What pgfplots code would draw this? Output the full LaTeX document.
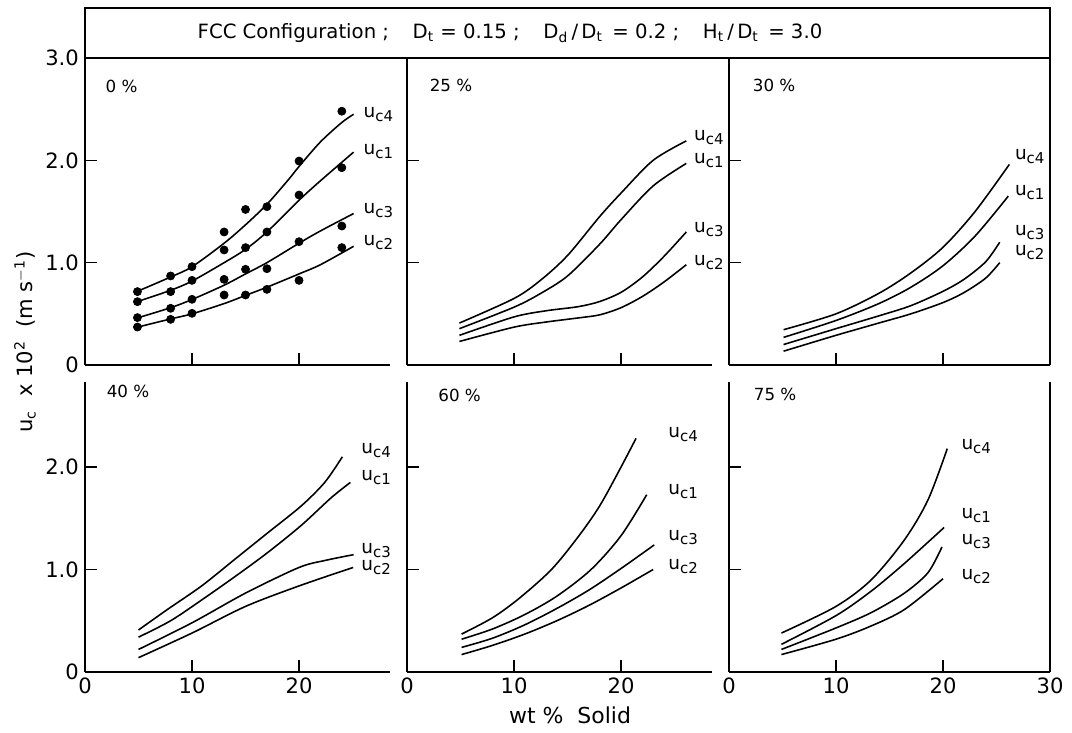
\documentclass[border=0pt]{standalone}
\usepackage{fontspec}
\setmainfont{DejaVu Sans}
\usepackage{pgfplots}
\pgfplotsset{compat=1.18}
\newcommand{\uc}[1]{u\raisebox{-0.4ex}{\fontsize{8.5}{9}\selectfont c#1}}
\tikzset{
  lab/.style={anchor=west, font=\fontsize{10.5}{12}\selectfont, inner sep=0pt},
  pct/.style={anchor=west, font=\fontsize{9.5}{11}\selectfont, inner sep=0pt},
}
\pgfplotsset{
  panel/.style={
    scale only axis, anchor=south west,
    xmin=0, ymin=0,
    axis x line*=bottom, axis y line*=left,
    axis line style={line width=0.9pt},
    every tick/.style={line width=0.9pt, black},
    major tick length=0.24cm,
    tick align=inside,
    tick label style={font=\fontsize{12}{13}\selectfont},
    /pgf/number format/assume math mode=true,
    clip=false,
  },
  uprow/.style={panel, width=6.10cm, height=6.14cm, xmax=28.5, ymax=3.0,
    xtick={10,20}, xticklabels={}, ytick={1,2}, yticklabels={}},
  lowrow/.style={panel, width=6.10cm, height=5.80cm, xmax=28.5, ymax=2.83,
    xtick={0,10,20}, xticklabels={0,10,20}, ytick={1,2}, yticklabels={}},
  curve/.style={black, line width=0.9pt, smooth, no markers},
  dots/.style={only marks, mark=*, mark size=2.3pt, black},
}
\begin{document}
\begin{tikzpicture}
\path[use as bounding box] (0,0) rectangle (21.44,14.66);

% title box
\draw[line width=0.9pt] (1.70,13.50) rectangle (21.00,14.50);
\node[font=\fontsize{11.2}{12}\selectfont] at (10.2,14.0)
  {FCC Configuration ;\hspace{1.2em}D\textsubscript{t} = 0.15 ;\hspace{1.2em}D\textsubscript{d}\,/\,D\textsubscript{t} \,= 0.2 ;\hspace{1.2em}H\textsubscript{t}\,/\,D\textsubscript{t} \,= 3.0};

% axis titles
\node[rotate=90, font=\fontsize{12}{13}\selectfont] at (0.50,7.82)
  {u\textsubscript{c}\ \ x 10\textsuperscript{2}\ \ (m s\textsuperscript{$-$1})};
\node[font=\fontsize{12.5}{14}\selectfont] at (11.4,0.36) {wt \%\ \ Solid};

% ---------- 0 %
\begin{axis}[uprow, at={(1.70cm,7.36cm)}, ytick={0,1,2,3}, yticklabels={0,1.0,2.0,3.0}]
\addplot[curve] coordinates {(4.9,0.72) (8,0.86) (10,0.96) (13,1.19) (15,1.37) (17,1.57) (19,1.81) (20,1.94) (22,2.18) (24,2.37) (25.1,2.45)};
\addplot[curve] coordinates {(4.9,0.62) (8,0.73) (10,0.82) (13,1.0) (15,1.13) (17,1.30) (20,1.61) (22,1.80) (25.1,2.08)};
\addplot[curve] coordinates {(4.9,0.46) (8,0.56) (10,0.64) (13,0.78) (15,0.89) (17,1.0) (20,1.19) (22,1.31) (25.1,1.48)};
\addplot[curve] coordinates {(4.9,0.37) (8,0.45) (10,0.50) (13,0.60) (15,0.68) (17,0.76) (20,0.89) (22,0.98) (25.1,1.16)};
\addplot[dots] coordinates {(4.9,0.717) (8,0.870) (10,0.961) (13,1.30) (15,1.52) (17,1.547) (20,1.993) (24,2.48)};
\addplot[dots] coordinates {(4.9,0.619) (8,0.717) (10,0.827) (13,1.124) (15,1.147) (17,1.30) (20,1.661) (24,1.928)};
\addplot[dots] coordinates {(4.9,0.463) (8,0.554) (10,0.642) (13,0.837) (15,0.935) (17,0.941) (20,1.205) (24,1.358)};
\addplot[dots] coordinates {(4.9,0.371) (8,0.446) (10,0.505) (13,0.684) (15,0.684) (17,0.739) (20,0.827) (24,1.147)};
\node[pct] at (axis cs:1.9,2.72) {0 \%};
\node[lab] at (axis cs:26,2.45) {\uc{4}};
\node[lab] at (axis cs:26,2.09) {\uc{1}};
\node[lab] at (axis cs:26,1.51) {\uc{3}};
\node[lab] at (axis cs:26,1.20) {\uc{2}};
\end{axis}

% ---------- 25 %
\begin{axis}[uprow, at={(8.14cm,7.36cm)}]
\addplot[curve] coordinates {(4.9,0.41) (10,0.65) (12.5,0.83) (15,1.07) (18,1.45) (20,1.68) (23,2.0) (26.1,2.19)};
\addplot[curve] coordinates {(4.9,0.355) (10,0.565) (12.5,0.70) (15,0.87) (18,1.18) (20,1.42) (23,1.75) (26.1,1.97)};
\addplot[curve] coordinates {(4.9,0.29) (10,0.47) (13,0.53) (16,0.57) (18,0.62) (20,0.71) (22,0.86) (24,1.06) (26.1,1.30)};
\addplot[curve] coordinates {(4.9,0.23) (10,0.37) (13,0.42) (16,0.46) (18,0.49) (20,0.56) (22,0.67) (24,0.81) (26.1,0.98)};
\node[pct] at (axis cs:2.1,2.73) {25 \%};
\node[lab] at (axis cs:26.8,2.22) {\uc{4}};
\node[lab] at (axis cs:26.8,2.00) {\uc{1}};
\node[lab] at (axis cs:26.8,1.32) {\uc{3}};
\node[lab] at (axis cs:26.8,1.00) {\uc{2}};
\end{axis}

% ---------- 30 %
\begin{axis}[uprow, at={(14.58cm,7.36cm)}, width=6.42cm, xmax=30]
\draw[line width=0.9pt] (axis cs:30,0) -- (axis cs:30,3.0);
\addplot[curve] coordinates {(5.1,0.345) (10,0.50) (14,0.70) (17,0.90) (20,1.15) (23,1.50) (26.2,1.96)};
\addplot[curve] coordinates {(5.1,0.27) (10,0.435) (14,0.60) (17,0.76) (20,0.97) (23,1.26) (26.1,1.65)};
\addplot[curve] coordinates {(5.1,0.20) (10,0.355) (14,0.48) (17,0.58) (20,0.72) (22,0.84) (24,1.01) (25.3,1.20)};
\addplot[curve] coordinates {(5.1,0.135) (10,0.29) (14,0.41) (17,0.50) (20,0.61) (22,0.71) (24,0.85) (25.3,1.0)};
\node[pct] at (axis cs:2.2,2.73) {30 \%};
\node[lab] at (axis cs:26.7,2.04) {\uc{4}};
\node[lab] at (axis cs:26.7,1.69) {\uc{1}};
\node[lab] at (axis cs:26.7,1.30) {\uc{3}};
\node[lab] at (axis cs:26.7,1.10) {\uc{2}};
\end{axis}

% ---------- 40 %
\begin{axis}[lowrow, at={(1.70cm,1.22cm)}, ytick={0,1,2}, yticklabels={0,1.0,2.0}]
\addplot[curve] coordinates {(5,0.41) (7.7,0.61) (10.9,0.84) (14,1.10) (17.1,1.36) (20.2,1.62) (22.4,1.85) (24.05,2.10)};
\addplot[curve] coordinates {(5,0.34) (8,0.50) (11,0.71) (14,0.93) (17,1.16) (20.2,1.43) (23,1.70) (24.8,1.85)};
\addplot[curve] coordinates {(5,0.22) (10,0.48) (15,0.77) (20,1.02) (22.5,1.09) (25.1,1.145)};
\addplot[curve] coordinates {(5,0.14) (10,0.38) (15,0.64) (20,0.84) (25.05,1.02)};
\node[pct] at (axis cs:2.0,2.74) {40 \%};
\node[lab] at (axis cs:25.8,2.16) {\uc{4}};
\node[lab] at (axis cs:25.8,1.90) {\uc{1}};
\node[lab] at (axis cs:25.8,1.19) {\uc{3}};
\node[lab] at (axis cs:25.8,1.02) {\uc{2}};
\end{axis}

% ---------- 60 %
\begin{axis}[lowrow, at={(8.14cm,1.22cm)}]
\addplot[curve] coordinates {(5.1,0.37) (8,0.53) (10.5,0.72) (13.5,1.0) (16,1.32) (18,1.62) (20,2.0) (21.4,2.28)};
\addplot[curve] coordinates {(5.1,0.32) (8,0.42) (11,0.56) (14,0.74) (17.2,1.0) (20,1.33) (22.4,1.73)};
\addplot[curve] coordinates {(5.1,0.24) (8,0.33) (11,0.46) (14,0.62) (17,0.80) (20,1.01) (23.1,1.24)};
\addplot[curve] coordinates {(5.1,0.17) (8,0.26) (11,0.37) (14,0.50) (17,0.65) (20,0.82) (23,1.0)};
\node[pct] at (axis cs:2.9,2.70) {60 \%};
\node[lab] at (axis cs:24.4,2.32) {\uc{4}};
\node[lab] at (axis cs:24.4,1.76) {\uc{1}};
\node[lab] at (axis cs:24.4,1.31) {\uc{3}};
\node[lab] at (axis cs:24.4,1.03) {\uc{2}};
\end{axis}

% ---------- 75 %
\begin{axis}[lowrow, at={(14.58cm,1.22cm)}, width=6.42cm, xmax=30, xtick={0,10,20,30}, xticklabels={0,10,20,30}]
\draw[line width=0.9pt] (axis cs:30,0) -- (axis cs:30,2.83);
\addplot[curve] coordinates {(4.9,0.38) (10,0.64) (13.3,0.90) (16.4,1.29) (18.6,1.68) (20.4,2.18)};
\addplot[curve] coordinates {(4.9,0.27) (10,0.55) (13.3,0.79) (16.4,1.06) (20.1,1.41)};
\addplot[curve] coordinates {(4.9,0.22) (10,0.43) (13.3,0.58) (16.4,0.77) (18.6,0.97) (19.9,1.22)};
\addplot[curve] coordinates {(4.9,0.17) (10,0.32) (13.3,0.45) (16.4,0.61) (20,0.91)};
\node[pct] at (axis cs:2.3,2.71) {75 \%};
\node[lab] at (axis cs:21.7,2.20) {\uc{4}};
\node[lab] at (axis cs:21.7,1.53) {\uc{1}};
\node[lab] at (axis cs:21.7,1.27) {\uc{3}};
\node[lab] at (axis cs:21.7,0.93) {\uc{2}};
\end{axis}
\end{tikzpicture}
\end{document}
